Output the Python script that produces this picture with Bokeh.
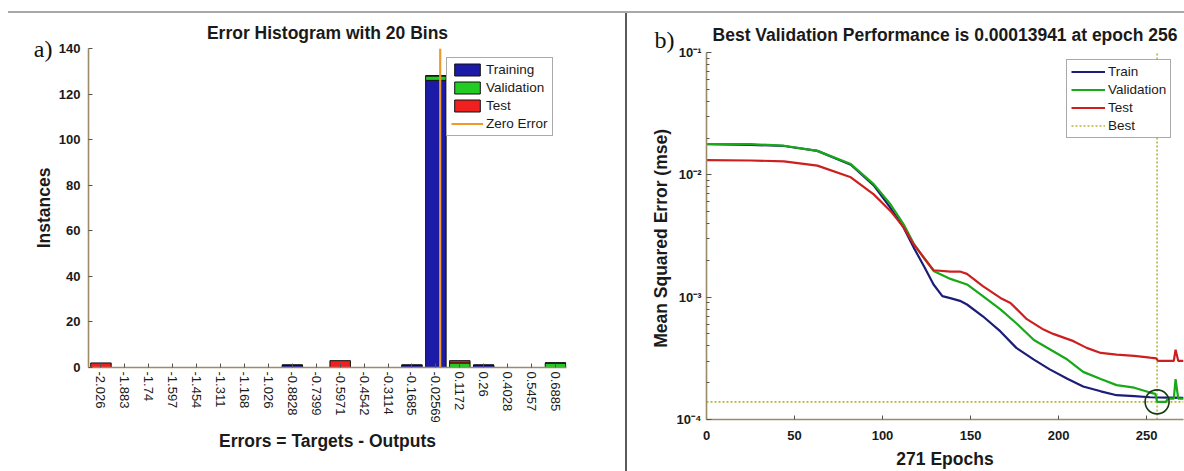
import numpy as np
from bokeh.plotting import figure
from bokeh.models import (Range1d, FixedTicker, Legend, LegendItem, Div, LinearAxis,
                          CustomJSTickFormatter, ColumnDataSource)
from bokeh.layouts import row, column
from bokeh.embed import file_html
from bokeh.resources import INLINE

# ---------------- data: error histogram ----------------
bin_labels = ["-2.026", "-1.883", "-1.74", "-1.597", "-1.454", "-1.311", "-1.168", "-1.026",
              "-0.8828", "-0.7399", "-0.5971", "-0.4542", "-0.3114", "-0.1685", "-0.02569",
              "0.1172", "0.26", "0.4028", "0.5457", "0.6885"]
train_counts = [0, 0, 0, 0, 0, 0, 0, 0, 1, 0, 0, 0, 0, 1, 126, 0, 1, 0, 0, 0]
val_counts   = [0, 0, 0, 0, 0, 0, 0, 0, 0, 0, 0, 0, 0, 0, 2, 2, 0, 0, 0, 2]
test_counts  = [2, 0, 0, 0, 0, 0, 0, 0, 0, 0, 3, 0, 0, 0, 0, 1, 0, 0, 0, 0]
hist_y_ticks = [0, 20, 40, 60, 80, 100, 120, 140]

# ---------------- data: performance curves ----------------
train_epochs = [0, 25, 44, 63, 82, 95, 104, 112, 118, 124, 129, 134, 139, 144, 148, 157, 167, 176,
                186, 195, 205, 214, 224, 233, 243, 252, 262, 271]
train_mse = [0.0178, 0.0176, 0.0172, 0.0157, 0.0121, 0.0082, 0.0055, 0.0037, 0.0025, 0.00174,
             0.00127, 0.00102, 0.000977, 0.000933, 0.000871, 0.000698, 0.000525, 0.000385,
             0.000309, 0.000257, 0.000215, 0.000186, 0.00017, 0.000158, 0.000155, 0.000152,
             0.000151, 0.00015]

val_epochs = [0, 25, 44, 63, 82, 95, 104.5, 112, 118, 123.5, 129, 138.6, 148, 157, 167, 176.5,
              186, 195.5, 205, 214, 224, 233, 243, 252, 255, 256, 261, 262, 265.5, 266.5, 268, 271]
val_mse = [0.01786, 0.0178, 0.0173, 0.0157, 0.01225, 0.0084, 0.00575, 0.00394, 0.0027, 0.0021,
           0.00164, 0.00141, 0.00127, 0.00102, 0.000794, 0.000603, 0.000447, 0.000372, 0.000309,
           0.000245, 0.000214, 0.000191, 0.000182, 0.000166, 0.000162, 0.00013941, 0.00013941,
           0.000148, 0.000148, 0.000214, 0.000148, 0.000148]

test_epochs = [0, 25, 44, 63, 82, 95, 104.5, 112, 117.6, 123.5, 129, 138.6, 144, 148, 157, 167,
               172.7, 182, 191.5, 197, 208.5, 216, 224, 233, 243, 252, 255.5, 256.5, 265.5,
               266.5, 268, 271]
test_mse = [0.0132, 0.0131, 0.0129, 0.0119, 0.00955, 0.00692, 0.00507, 0.00372, 0.00272, 0.0021,
            0.00166, 0.00162, 0.00162, 0.00155, 0.00123, 0.000986, 0.000897, 0.000661, 0.000543,
            0.000501, 0.000437, 0.000385, 0.00035, 0.000339, 0.000331, 0.00032, 0.000316,
            0.000302, 0.000302, 0.000372, 0.000302, 0.000302]

best_epoch = 256
best_perf = 0.00013941
n_epochs = 271
perf_x_ticks = [0, 50, 100, 150, 200, 250]
perf_y_ticks = [1e-4, 1e-3, 1e-2, 1e-1]
perf_y_minor = [m * 10.0 ** e for e in (-4, -3, -2) for m in range(2, 10)]

FONT = "Liberation Sans"
SERIF = "Liberation Serif"
AXIS_COLOR = "#9c8a68"
TICK_COLOR = "#555555"
LABEL_COLOR = "#1a1a1a"
BIG = "17.5px"


def style_axes(p):
    for ax in (p.xaxis[0], p.yaxis[0]):
        ax.axis_line_color = AXIS_COLOR
        ax.axis_line_width = 1.6
        ax.major_tick_line_color = TICK_COLOR
        ax.minor_tick_line_color = TICK_COLOR
        ax.major_tick_in = 4
        ax.major_tick_out = 0
        ax.minor_tick_in = 0
        ax.minor_tick_out = 0
        ax.major_label_text_font = FONT
        ax.major_label_text_font_size = "13px"
        ax.major_label_text_color = LABEL_COLOR
        ax.axis_label_text_font = FONT
        ax.axis_label_text_font_size = BIG
        ax.axis_label_text_font_style = "bold"
        ax.axis_label_text_color = LABEL_COLOR
    p.grid.visible = False
    p.outline_line_color = None
    p.background_fill_color = "white"
    p.border_fill_color = "white"
    p.title.align = "center"
    p.title.text_font = FONT
    p.title.text_font_size = BIG
    p.title.text_font_style = "bold"
    p.title.text_color = LABEL_COLOR


def style_legend(leg, glyph_w):
    leg.label_text_font = FONT
    leg.label_text_font_size = "13.5px"
    leg.label_text_color = LABEL_COLOR
    leg.glyph_width = glyph_w
    leg.glyph_height = 15
    leg.label_height = 15
    leg.spacing = 3
    leg.padding = 4
    leg.margin = 0
    leg.label_standoff = 3
    leg.border_line_color = "#555555"
    leg.border_line_width = 1.5
    leg.background_fill_color = "white"
    leg.background_fill_alpha = 1


def panel_tag(p, text, tick, standoff, range_name="default", baseline=None):
    ax = LinearAxis(ticker=FixedTicker(ticks=[tick]), y_range_name=range_name)
    ax.major_label_overrides = {tick: text}
    ax.axis_line_color = None
    ax.major_tick_line_color = None
    ax.minor_tick_line_color = None
    ax.major_label_standoff = standoff
    ax.major_label_text_font = SERIF
    ax.major_label_text_font_size = "24px"
    ax.major_label_text_color = "#111111"
    if baseline is not None:
        ax.major_label_text_baseline = baseline
    p.add_layout(ax, "left")


# ---------------- left: histogram ----------------
n_bins = len(bin_labels)
idx = list(range(n_bins))
bin_step = (float(bin_labels[-1]) - float(bin_labels[0])) / (n_bins - 1)
zero_pos = (0.0 - float(bin_labels[0])) / bin_step
y_top = hist_y_ticks[-1]

p1 = figure(width=625, height=458, x_range=Range1d(-0.52, 19.46), y_range=Range1d(0, y_top),
            title="Error Histogram with 20 Bins",
            output_backend="svg", toolbar_location=None,
            min_border_left=88, min_border_right=59, min_border_top=35, min_border_bottom=104)
style_axes(p1)
p1.title.standoff = 11

src = ColumnDataSource(dict(x=idx, train=train_counts, val=val_counts, test=test_counts))
bars = p1.vbar_stack(["train", "val", "test"], x="x", width=0.857, source=src,
                     fill_color=["#1b1ba8", "#22cc22", "#f02020"], line_color="#111111",
                     line_width=1)
zero_line = p1.line([zero_pos, zero_pos], [0, y_top], line_color="#ee9a2a", line_width=2.2)

p1.xaxis.ticker = FixedTicker(ticks=idx)
p1.xaxis.major_label_overrides = {i: lab for i, lab in zip(idx, bin_labels)}
p1.xaxis.major_label_orientation = "vertical"
p1.xaxis.major_label_standoff = 4
p1.xaxis.axis_label = "Errors = Targets - Outputs"
p1.xaxis.axis_label_standoff = 5
p1.yaxis.ticker = FixedTicker(ticks=hist_y_ticks)
p1.yaxis.major_label_standoff = 8
p1.yaxis.major_label_text_font_style = "bold"
p1.yaxis.axis_label = "Instances"
p1.yaxis.axis_label_standoff = 2
panel_tag(p1, "a)", y_top, -28)

leg1 = Legend(items=[LegendItem(label="Training", renderers=[bars[0]]),
                     LegendItem(label="Validation", renderers=[bars[1]]),
                     LegendItem(label="Test", renderers=[bars[2]]),
                     LegendItem(label="Zero Error", renderers=[zero_line])],
              location=(358, 231))
style_legend(leg1, 32)
p1.add_layout(leg1)

# ---------------- right: performance ----------------
p2 = figure(width=557, height=458, x_range=Range1d(0, n_epochs),
            y_range=Range1d(perf_y_ticks[0], perf_y_ticks[-1]),
            title="Best Validation Performance is 0.00013941 at epoch 256",
            y_axis_type="log", output_backend="svg", toolbar_location=None,
            min_border_left=79, min_border_right=1, min_border_top=39, min_border_bottom=51)
style_axes(p2)
p2.title.standoff = 16

best_color = "#b5b83a"
r_best = p2.line([0, n_epochs], [best_perf, best_perf], line_color=best_color,
                 line_width=1.6, line_dash="2 2")
p2.line([best_epoch, best_epoch], [perf_y_ticks[0], perf_y_ticks[-1]], line_color=best_color,
        line_width=1.6, line_dash="2 2")

r_tr = p2.line(train_epochs, train_mse, line_color="#1c1c7a", line_width=2.2)
r_va = p2.line(val_epochs, val_mse, line_color="#18a818", line_width=2.2)
r_te = p2.line(test_epochs, test_mse, line_color="#cc2020", line_width=2.2)
p2.scatter([best_epoch], [best_perf], size=24, fill_color=None, line_color="#143a14",
           line_width=1.6)

p2.xaxis.ticker = FixedTicker(ticks=perf_x_ticks)
p2.xaxis.major_label_standoff = 11
p2.xaxis.major_label_text_font_style = "bold"
p2.xaxis.axis_label = "271 Epochs"
p2.xaxis.axis_label_standoff = 6
p2.yaxis.ticker = FixedTicker(ticks=perf_y_ticks, minor_ticks=perf_y_minor)
p2.yaxis.minor_tick_in = 3
p2.yaxis.major_tick_in = 5
p2.yaxis.major_label_standoff = 5
p2.yaxis.major_label_text_font_style = "bold"
p2.yaxis.formatter = CustomJSTickFormatter(code="""
    const e = Math.round(Math.log10(tick));
    const sup = {'-': '\u207b', '0': '\u2070', '1': '\u00b9', '2': '\u00b2', '3': '\u00b3',
                 '4': '\u2074', '5': '\u2075', '6': '\u2076', '7': '\u2077', '8': '\u2078', '9': '\u2079'};
    return '10' + String(e).split('').map(c => sup[c]).join('');
""")
p2.yaxis.axis_label = "Mean Squared Error  (mse)"
p2.yaxis.axis_label_standoff = 3
p2.extra_y_ranges = {"tag": Range1d(0, 1)}
panel_tag(p2, "b)", 1, -33, range_name="tag", baseline="bottom")

leg2 = Legend(items=[LegendItem(label="Train", renderers=[r_tr]),
                     LegendItem(label="Validation", renderers=[r_va]),
                     LegendItem(label="Test", renderers=[r_te]),
                     LegendItem(label="Best", renderers=[r_best])],
              location=(360, 281))
style_legend(leg2, 34)
p2.add_layout(leg2)

# ---------------- layout with separators ----------------
top_line = Div(text="", width=1176, height=2, margin=(11, 0, 0, 8),
               styles={"background-color": "#a8a8a8"})
v_line = Div(text="", width=2, height=458, margin=(0, 0, 0, 0),
             styles={"background-color": "#5a5a5a"})
layout = column(top_line, row(column(p1), v_line, column(p2), spacing=0), spacing=0)

open("out.html", "w").write(file_html(layout, INLINE))
